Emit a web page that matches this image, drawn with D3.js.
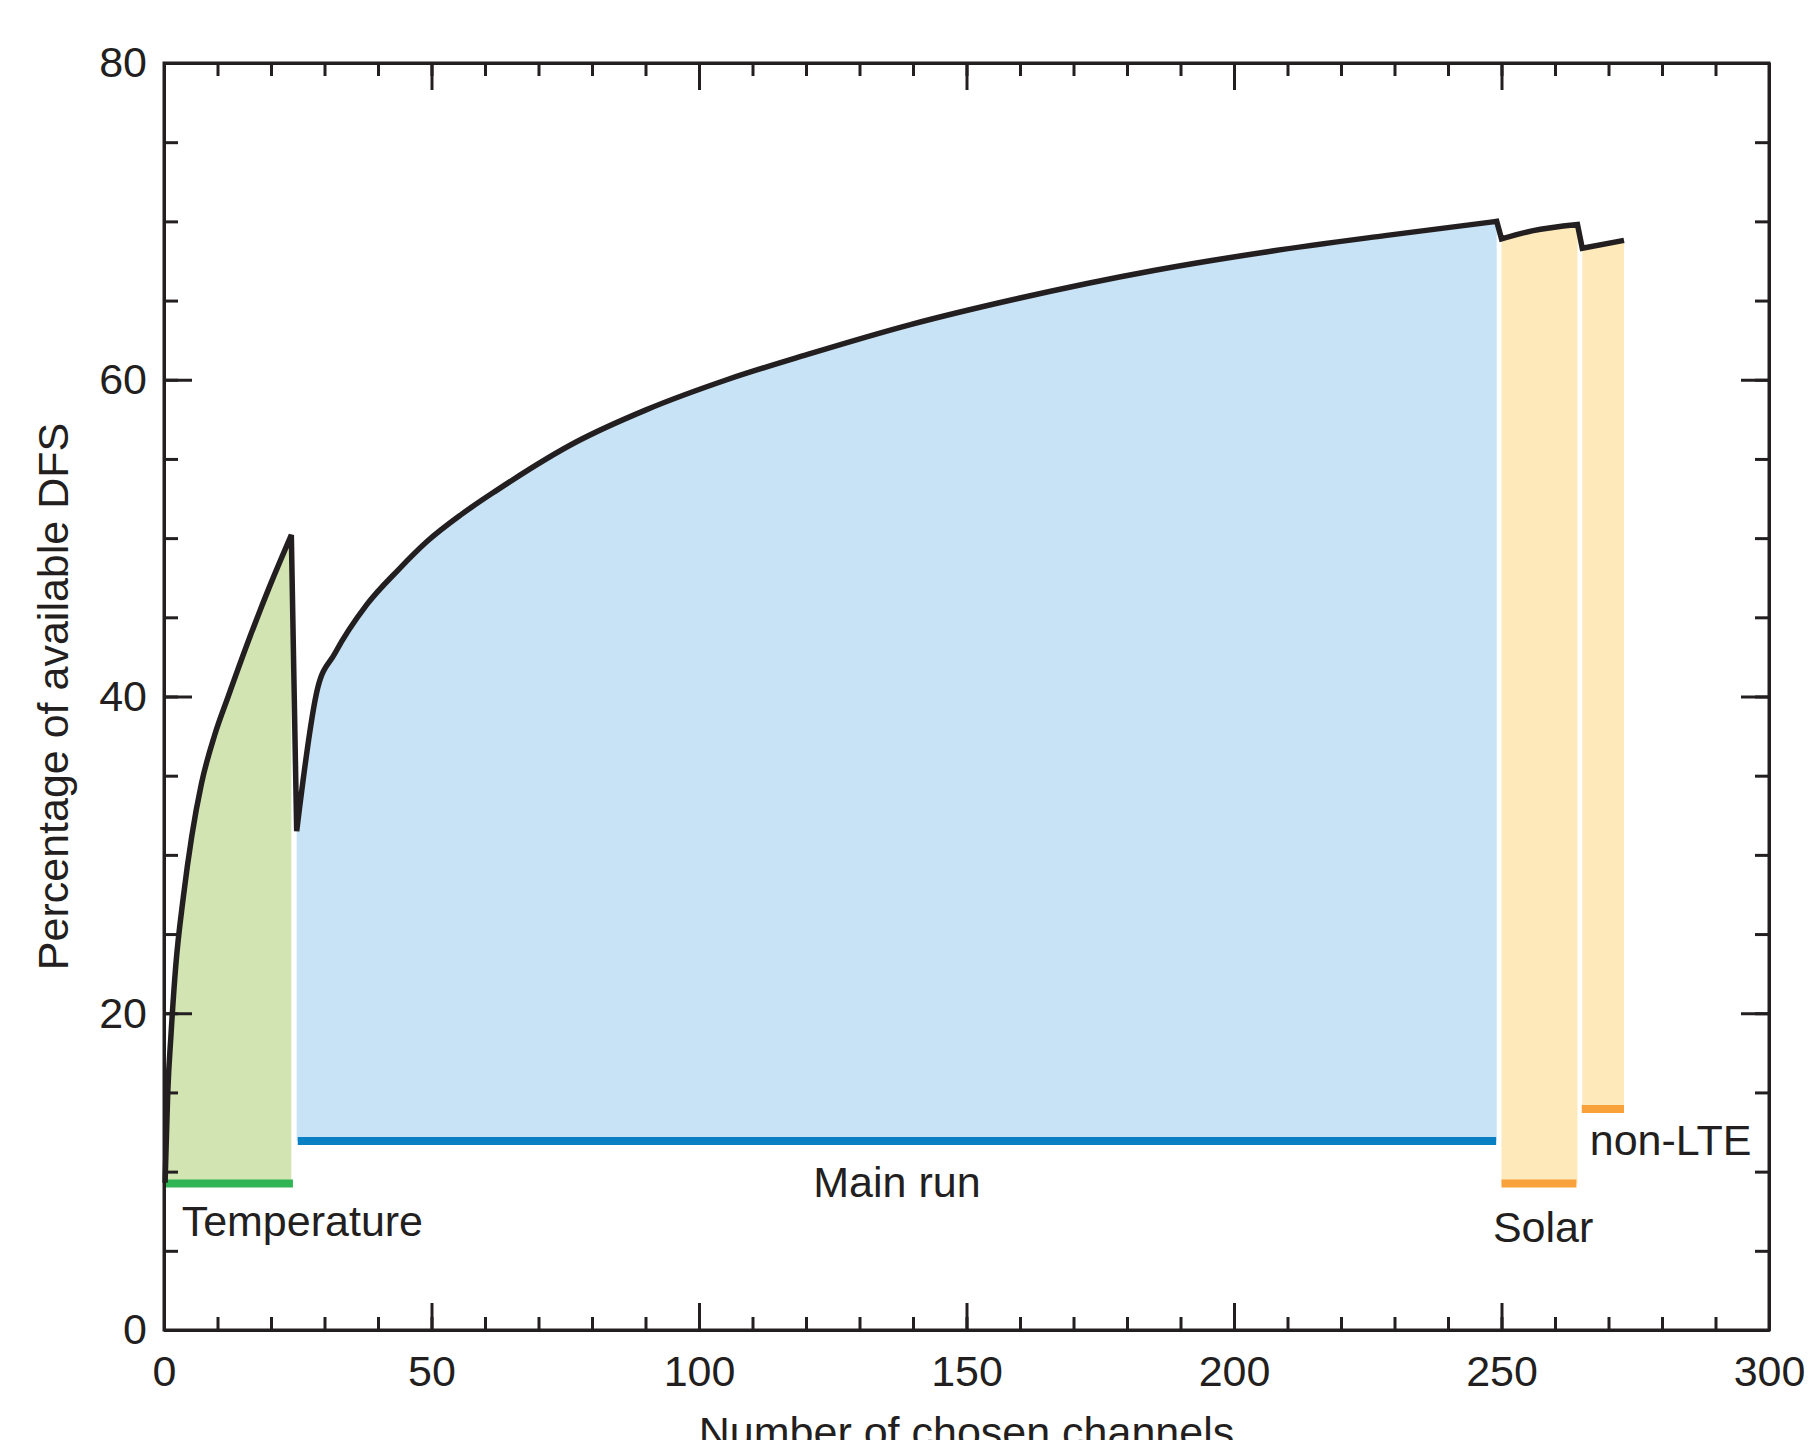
<!DOCTYPE html>
<html>
<head>
<meta charset="utf-8">
<script src="https://cdn.jsdelivr.net/npm/d3@7"></script>
<style>
  body { margin: 0; background: #fff; }
  svg { display: block; font-family: "Liberation Sans", Arial, Helvetica, sans-serif; }
  .axis path, .axis line { stroke: #231f20; stroke-width: 3; }
  .axis text { fill: #231f20; font-size: 43px; font-family: "Liberation Sans", Arial, sans-serif; }
</style>
</head>
<body>
<svg id="chart" width="1809" height="1440"></svg>
<script>
/* values: channel count vs % of available DFS */
const tempChannels = [0.2, 0.7, 1.3, 2.2, 3.6, 5.2, 7.0, 9.5, 12.0, 16.1, 19.8, 23.8];
const tempDFS = [9.3, 15.0, 18.6, 23.0, 27.3, 31.2, 34.5, 37.6, 40.0, 43.8, 47.0, 50.2];

const mainChannels = [24.8, 28.7, 31.9, 37.9, 43.8, 49.2, 55.6, 62.1, 77.2, 90.1, 105.2, 120.3, 139.7, 159.2, 185.0, 206.6, 228.2, 249.1];
const mainDFS = [31.5, 40.5, 42.7, 45.8, 48.0, 49.8, 51.5, 53.0, 56.1, 58.1, 60.0, 61.6, 63.5, 65.1, 66.9, 68.1, 69.1, 70.0];

const solarChannels = [250.0, 255.7, 264.2];
const solarDFS = [68.9, 69.4, 69.8];

const nlteChannels = [265.1, 272.9];
const nlteDFS = [68.3, 68.8];

const groupNames = ['Temperature', 'Main run', 'Solar', 'non-LTE'];
const groupStart = [0.2, 25.0, 250.0, 265.0];
const groupEnd = [24.1, 249.0, 264.0, 272.9];
const groupBase = [9.25, 11.93, 9.25, 13.95];

const xTicks = [0, 50, 100, 150, 200, 250, 300];
const yTicks = [0, 20, 40, 60, 80];

const svg = d3.select('#chart');
const plotLeft = 164;
const plotRight = 1769;
const plotTop = 63;
const plotBottom = 1330;

const x = d3.scaleLinear().domain([0, 300]).range([plotLeft, plotRight]);
const y = d3.scaleLinear().domain([0, 80]).range([plotBottom, plotTop]);

const groups = [
  { ch: tempChannels, v: tempDFS, fill: '#d1e4b1', bar: '#31b454' },
  { ch: mainChannels, v: mainDFS, fill: '#c7e3f5', bar: '#0a80c4' },
  { ch: solarChannels, v: solarDFS, fill: '#fde9ba', bar: '#f9a13b' },
  { ch: nlteChannels, v: nlteDFS, fill: '#fde9ba', bar: '#f9a13b' }
];

const curve = d3.curveMonotoneX;

/* shaded areas under each run */
groups.forEach((g, i) => {
  const pts = g.ch.map((c, k) => [c, g.v[k]]);
  const area = d3.area()
    .x(d => x(d[0]))
    .y0(y(groupBase[i]))
    .y1(d => y(d[1]))
    .curve(curve);
  svg.append('path')
    .attr('d', area(pts))
    .attr('fill', g.fill);
});

/* coloured base bars */
groups.forEach((g, i) => {
  svg.append('line')
    .attr('x1', x(groupStart[i]))
    .attr('x2', x(groupEnd[i]))
    .attr('y1', y(groupBase[i]))
    .attr('y2', y(groupBase[i]))
    .attr('stroke', g.bar)
    .attr('stroke-width', 8);
});

/* axes: box with inward major/minor ticks */
const minorX = d3.range(0, 301, 10);
const minorY = d3.range(0, 81, 5);

svg.append('g').attr('class', 'axis')
  .attr('transform', `translate(0,${plotBottom})`)
  .call(d3.axisBottom(x).tickValues(minorX).tickSize(-13).tickSizeOuter(0).tickFormat(''));
svg.append('g').attr('class', 'axis')
  .attr('transform', `translate(0,${plotBottom})`)
  .call(d3.axisBottom(x).tickValues(xTicks).tickSize(-27).tickSizeOuter(0).tickPadding(25));

svg.append('g').attr('class', 'axis')
  .attr('transform', `translate(0,${plotTop})`)
  .call(d3.axisTop(x).tickValues(minorX).tickSize(-13).tickSizeOuter(0).tickFormat(''));
svg.append('g').attr('class', 'axis')
  .attr('transform', `translate(0,${plotTop})`)
  .call(d3.axisTop(x).tickValues(xTicks).tickSize(-27).tickSizeOuter(0).tickFormat(''));

svg.append('g').attr('class', 'axis')
  .attr('transform', `translate(${plotLeft},0)`)
  .call(d3.axisLeft(y).tickValues(minorY).tickSize(-14).tickSizeOuter(0).tickFormat(''));
svg.append('g').attr('class', 'axis')
  .attr('transform', `translate(${plotLeft},0)`)
  .call(d3.axisLeft(y).tickValues(yTicks).tickSize(-28).tickSizeOuter(0).tickPadding(17));

svg.append('g').attr('class', 'axis')
  .attr('transform', `translate(${plotRight},0)`)
  .call(d3.axisRight(y).tickValues(minorY).tickSize(-14).tickSizeOuter(0).tickFormat(''));
svg.append('g').attr('class', 'axis')
  .attr('transform', `translate(${plotRight},0)`)
  .call(d3.axisRight(y).tickValues(yTicks).tickSize(-28).tickSizeOuter(0).tickFormat(''));

/* frame */
svg.append('rect')
  .attr('x', plotLeft)
  .attr('y', plotTop)
  .attr('width', plotRight - plotLeft)
  .attr('height', plotBottom - plotTop)
  .attr('fill', 'none')
  .attr('stroke', '#231f20')
  .attr('stroke-width', 3);

/* black DFS curve, one continuous path across all runs */
let d = '';
groups.forEach((g, i) => {
  const pts = g.ch.map((c, k) => [c, g.v[k]]);
  const seg = d3.line().x(p => x(p[0])).y(p => y(p[1])).curve(curve)(pts);
  d += i === 0 ? seg : 'L' + seg.slice(1);
});
svg.append('path')
  .attr('d', d)
  .attr('fill', 'none')
  .attr('stroke', '#231f20')
  .attr('stroke-width', 5.5)
  .attr('stroke-linejoin', 'miter');

/* run labels */
const labelText = (tx, ty, s, anchor) => svg.append('text')
  .attr('x', tx)
  .attr('y', ty)
  .attr('text-anchor', anchor)
  .attr('font-size', 43)
  .attr('fill', '#231f20')
  .text(s);

labelText(x(3.3), y(5.93), groupNames[0], 'start');
labelText(x(137.0), y(8.42), groupNames[1], 'middle');
labelText(x(248.4), y(5.57), groupNames[2], 'start');
labelText(x(266.5), y(11.05), groupNames[3], 'start');

/* axis titles */
svg.append('text')
  .attr('x', (plotLeft + plotRight) / 2)
  .attr('y', 1447)
  .attr('text-anchor', 'middle')
  .attr('font-size', 43)
  .attr('fill', '#231f20')
  .text('Number of chosen channels');

svg.append('text')
  .attr('transform', `translate(68,${(plotTop + plotBottom) / 2}) rotate(-90)`)
  .attr('text-anchor', 'middle')
  .attr('font-size', 43)
  .attr('fill', '#231f20')
  .text('Percentage of available DFS');
</script>
</body>
</html>
